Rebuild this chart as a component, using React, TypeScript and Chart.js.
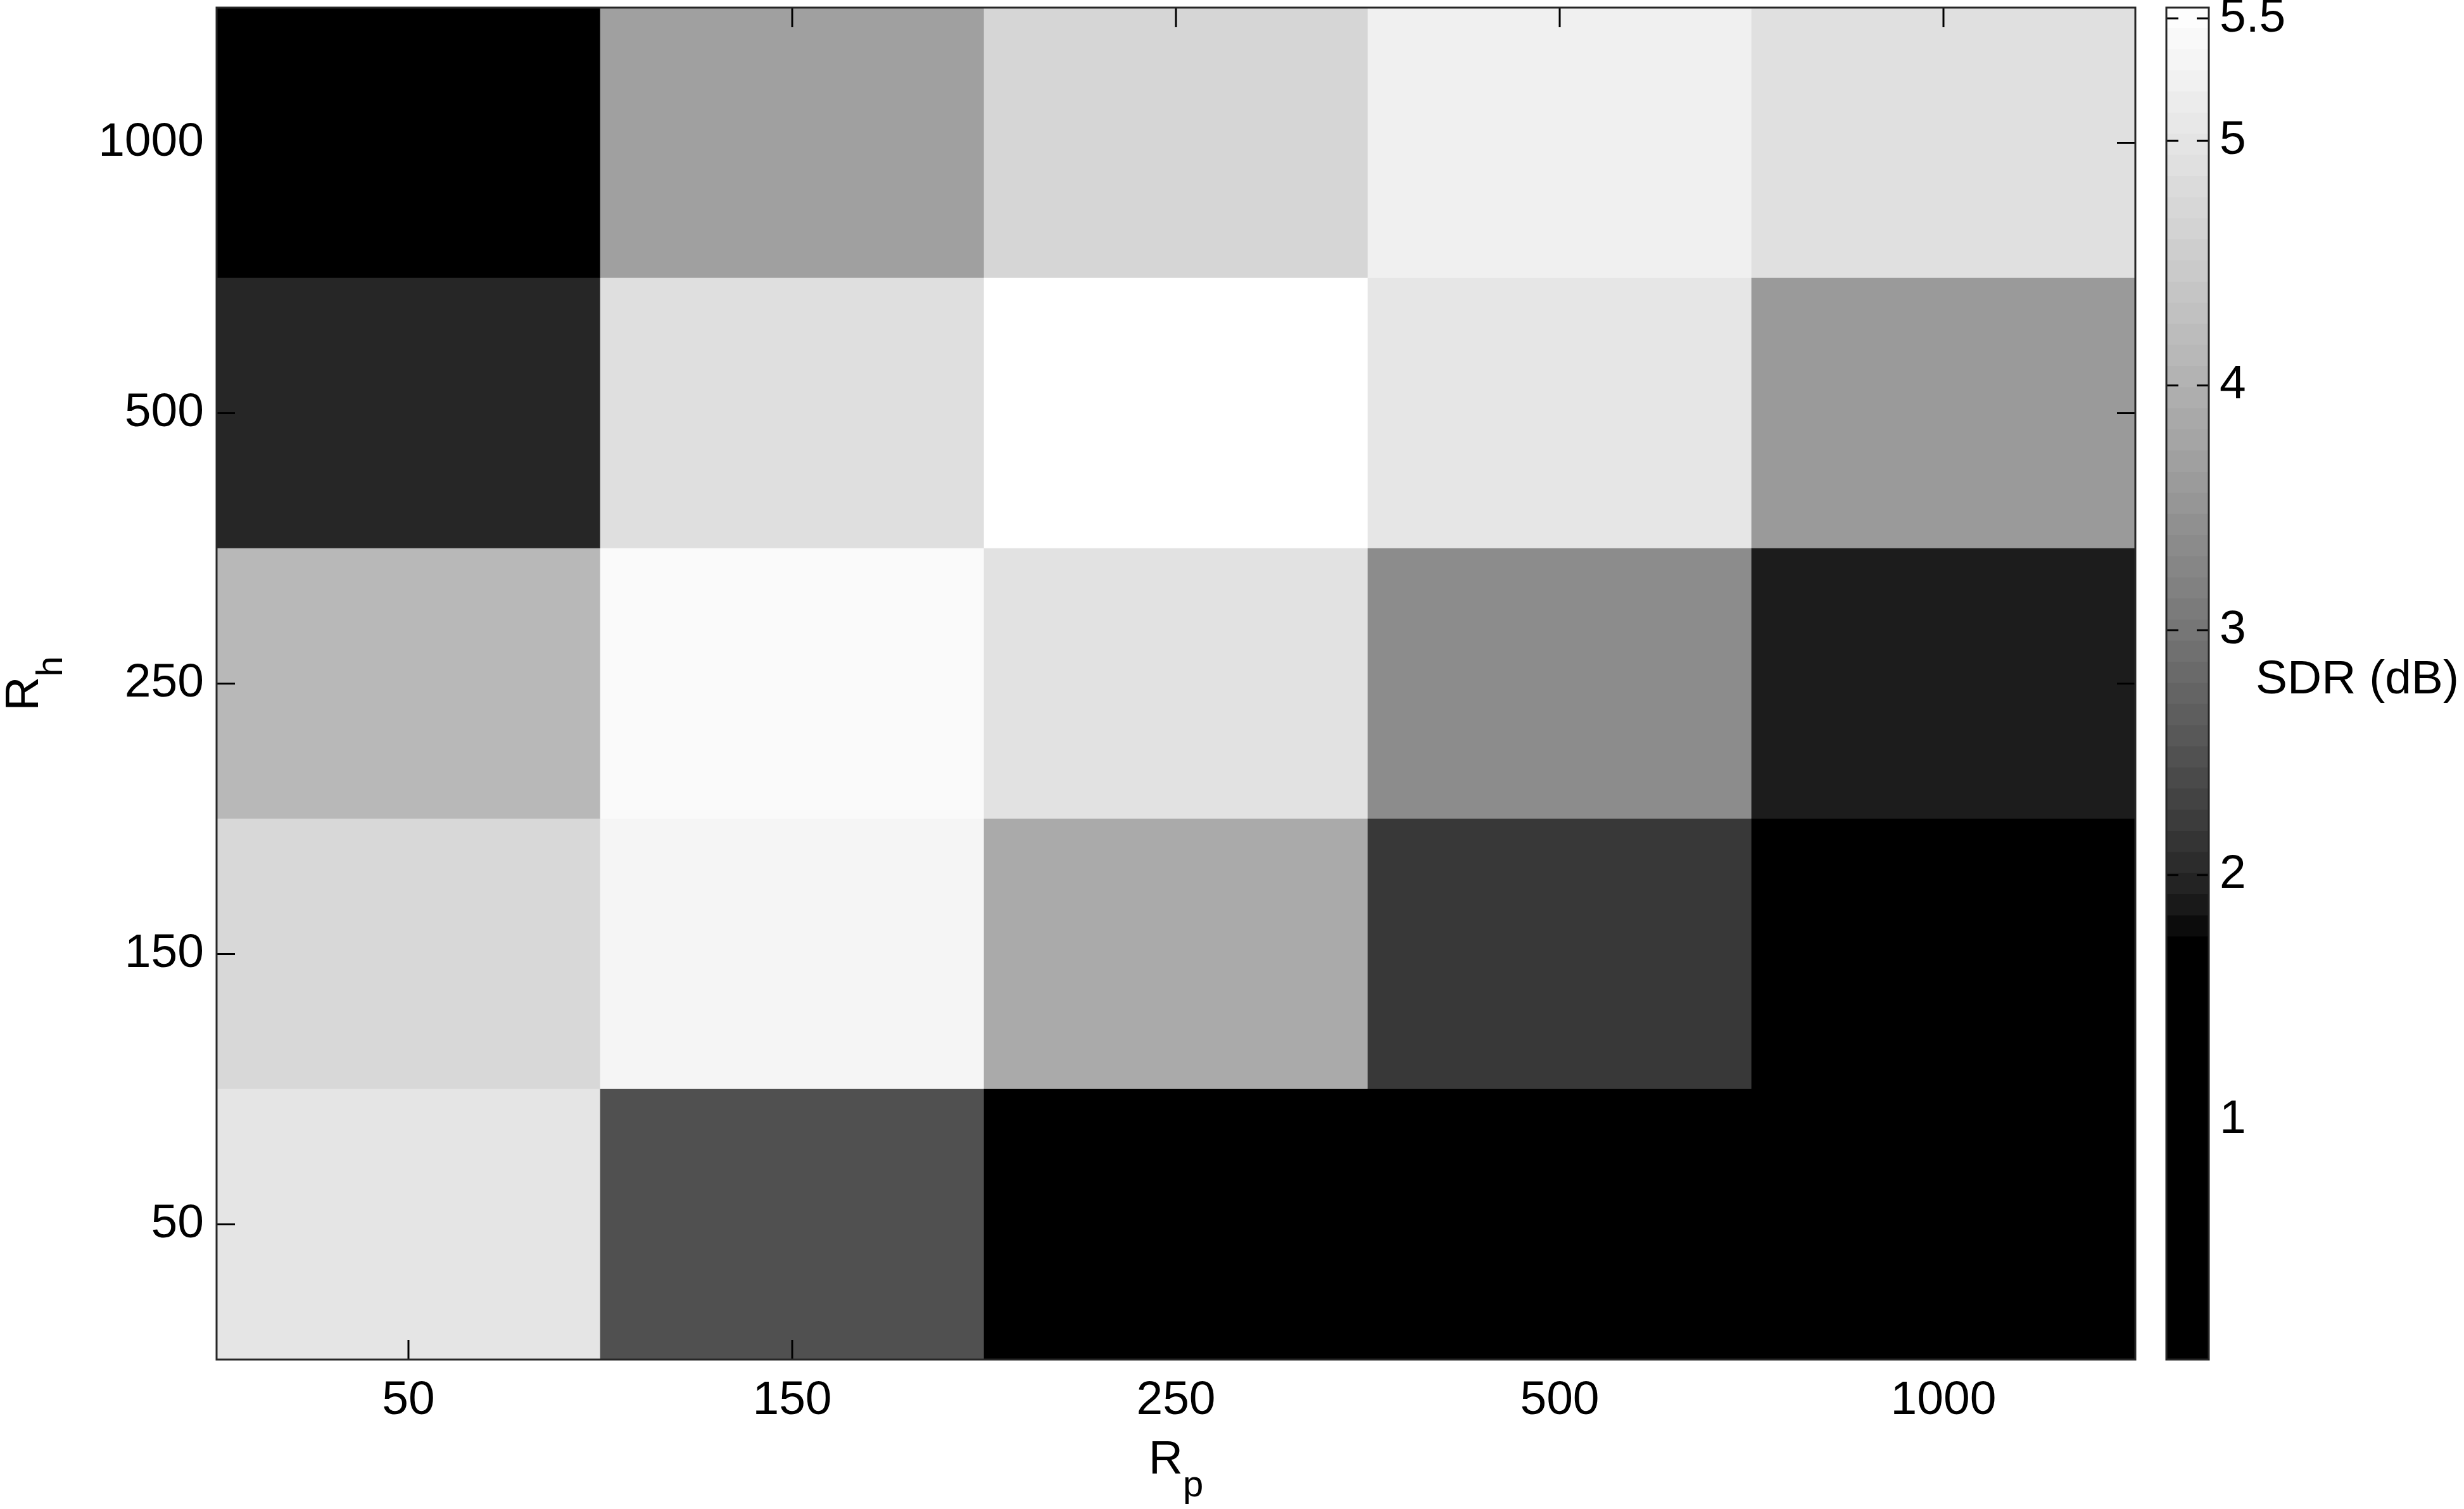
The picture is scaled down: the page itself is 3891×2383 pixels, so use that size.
import React, { useEffect, useRef } from "react";
import { Chart, registerables } from "chart.js";

Chart.register(...registerables);

// ---- data ----
const rpLabels = ["50", "150", "250", "500", "1000"];
const rhLabels = ["50", "150", "250", "500", "1000"]; // bottom -> top
// SDR (dB) per R_h row, indexed by R_p column
const sdrRh50 = [5.0, 2.47, 1.2, 0.9, 0.6];
const sdrRh150 = [4.74, 5.33, 3.87, 2.18, 1.3];
const sdrRh250 = [4.13, 5.43, 4.94, 3.35, 1.9];
const sdrRh500 = [1.99, 4.88, 5.54, 5.02, 3.59];
const sdrRh1000 = [1.5, 3.69, 4.7, 5.22, 4.9];
const sdrRows = [sdrRh50, sdrRh150, sdrRh250, sdrRh500, sdrRh1000];

const cbTicks = [1, 2, 3, 4, 5, 5.5];
const cbMin = 0.02;
const cbMax = 5.544;
const cbLevels = 64;
const cmBlack = 1.74;
const cmGamma = 0.7;

const FONT = '"Liberation Sans", Arial, Helvetica, sans-serif';
const FS = 75;
const SUB = 58;

function cm(v: number): string {
  let t = (v - cmBlack) / (cbMax - cmBlack);
  t = Math.max(0, Math.min(1, t));
  const g = Math.round(255 * Math.pow(t, cmGamma));
  return `rgb(${g},${g},${g})`;
}

const W = 3891;
const H = 2383;
const PLOT_LEFT = 342;
const PLOT_RIGHT = 3372;
const PLOT_TOP = 12;
const PLOT_BOTTOM = 2147;
const CB_LEFT = 3421;
const CB_RIGHT = 3488;
const CB_CANVAS_X = 3300;

const framePlugin = {
  id: "frameTicks",
  afterDraw(chart: any) {
    const { ctx, chartArea: a, scales } = chart;
    const x = scales.x;
    const y = scales.y;
    ctx.save();
    ctx.strokeStyle = "#000";
    ctx.lineWidth = 3;
    ctx.beginPath();
    rpLabels.forEach((_, i) => {
      const px = x.getPixelForValue(i);
      ctx.moveTo(px, a.bottom);
      ctx.lineTo(px, a.bottom - 31);
      ctx.moveTo(px, a.top);
      ctx.lineTo(px, a.top + 31);
    });
    rhLabels.forEach((_, r) => {
      const py = y.getPixelForValue(r + 0.5);
      ctx.moveTo(a.left, py);
      ctx.lineTo(a.left + 29, py);
      ctx.moveTo(a.right, py);
      ctx.lineTo(a.right - 29, py);
    });
    ctx.stroke();
    ctx.strokeStyle = "#262626";
    ctx.strokeRect(a.left, a.top, a.right - a.left, a.bottom - a.top);

    // axis titles with subscripts
    ctx.fillStyle = "#000";
    ctx.textBaseline = "alphabetic";
    ctx.textAlign = "left";
    const cx = (a.left + a.right) / 2;
    const cy = (a.top + a.bottom) / 2;
    ctx.font = `${FS}px ${FONT}`;
    const wR = ctx.measureText("R").width;
    ctx.font = `${SUB}px ${FONT}`;
    const wP = ctx.measureText("p").width;
    const wH = ctx.measureText("h").width;
    let sx = cx - (wR + wP) / 2;
    const by = a.bottom + 180;
    ctx.font = `${FS}px ${FONT}`;
    ctx.fillText("R", sx, by);
    ctx.font = `${SUB}px ${FONT}`;
    ctx.fillText("p", sx + wR, by + 36);
    ctx.translate(a.left - 282, cy);
    ctx.rotate(-Math.PI / 2);
    sx = -(wR + wH) / 2;
    ctx.font = `${FS}px ${FONT}`;
    ctx.fillText("R", sx, 0);
    ctx.font = `${SUB}px ${FONT}`;
    ctx.fillText("h", sx + wR, 38);
    ctx.restore();
  },
};

const cbPlugin = {
  id: "cbFrame",
  afterDraw(chart: any) {
    const { ctx, chartArea: a, scales } = chart;
    const y = scales.y;
    ctx.save();
    ctx.strokeStyle = "#000";
    ctx.lineWidth = 3;
    ctx.beginPath();
    cbTicks.forEach((t) => {
      const py = y.getPixelForValue(t);
      ctx.moveTo(a.left, py);
      ctx.lineTo(a.left + 19, py);
      ctx.moveTo(a.right, py);
      ctx.lineTo(a.right - 19, py);
    });
    ctx.stroke();
    ctx.strokeStyle = "#262626";
    ctx.strokeRect(a.left, a.top, a.right - a.left, a.bottom - a.top);
    ctx.fillStyle = "#000";
    ctx.font = `${FS}px ${FONT}`;
    ctx.textAlign = "left";
    ctx.textBaseline = "alphabetic";
    ctx.fillText("SDR (dB)", a.right + 74, (a.top + a.bottom) / 2 + 15);
    ctx.restore();
  },
};

function zeroPad(s: any) {
  s.paddingTop = 0;
  s.paddingBottom = 0;
  s.paddingLeft = 0;
  s.paddingRight = 0;
}

export default function App() {
  const mainRef = useRef<HTMLCanvasElement | null>(null);
  const cbRef = useRef<HTMLCanvasElement | null>(null);

  useEffect(() => {
    const datasets = sdrRows.map((row, r) => ({
      label: `Rh ${rhLabels[r]}`,
      data: row.map(() => [r, r + 1]),
      backgroundColor: row.map((v) => cm(v)),
      borderWidth: 0,
      barPercentage: 1,
      categoryPercentage: 1,
      grouped: false,
    }));

    const main = new Chart(mainRef.current as HTMLCanvasElement, {
      type: "bar",
      data: { labels: rpLabels, datasets: datasets as any },
      options: {
        responsive: false,
        animation: false,
        layout: {
          padding: { left: 0, top: PLOT_TOP, right: W - PLOT_RIGHT, bottom: 0 },
        },
        plugins: { legend: { display: false }, tooltip: { enabled: false } },
        scales: {
          x: {
            type: "category",
            offset: true,
            grid: { display: false },
            border: { display: false },
            ticks: {
              color: "#000",
              font: { family: FONT, size: FS },
              padding: 12,
              maxRotation: 0,
              autoSkip: false,
            },
            afterFit: (s: any) => {
              s.height = H - PLOT_BOTTOM;
              zeroPad(s);
            },
          },
          y: {
            type: "linear",
            min: 0,
            max: 5,
            grid: { display: false },
            border: { display: false },
            afterBuildTicks: (s: any) => {
              s.ticks = rhLabels.map((_, i) => ({ value: i + 0.5 }));
            },
            ticks: {
              color: "#000",
              font: { family: FONT, size: FS },
              padding: 12,
              autoSkip: false,
              callback: (v: any) => rhLabels[Math.round(Number(v) - 0.5)],
            },
            afterFit: (s: any) => {
              s.width = PLOT_LEFT;
              zeroPad(s);
            },
          },
        },
      },
      plugins: [framePlugin],
    });

    const step = (cbMax - cbMin) / cbLevels;
    const bands = Array.from({ length: cbLevels }, (_, k) => [cbMin + k * step, cbMin + (k + 1) * step]);
    const cbDatasets = bands.map((b, k) => ({
      label: `band ${k}`,
      data: [[b[0], b[1] + (k < cbLevels - 1 ? step * 0.02 : 0)]],
      backgroundColor: cm((b[0] + b[1]) / 2),
      borderWidth: 0,
      barPercentage: 1,
      categoryPercentage: 1,
      grouped: false,
    }));

    const cbW = W - CB_CANVAS_X;
    const cb = new Chart(cbRef.current as HTMLCanvasElement, {
      type: "bar",
      data: { labels: ["SDR"], datasets: cbDatasets as any },
      options: {
        responsive: false,
        animation: false,
        layout: {
          padding: { left: CB_LEFT - CB_CANVAS_X, top: PLOT_TOP, right: 0, bottom: H - PLOT_BOTTOM },
        },
        plugins: { legend: { display: false }, tooltip: { enabled: false } },
        scales: {
          x: { type: "category", display: false, offset: true },
          y: {
            type: "linear",
            position: "right",
            min: cbMin,
            max: cbMax,
            grid: { display: false },
            border: { display: false },
            afterBuildTicks: (s: any) => {
              s.ticks = cbTicks.map((v) => ({ value: v }));
            },
            ticks: {
              color: "#000",
              font: { family: FONT, size: FS },
              padding: 9,
              autoSkip: false,
              callback: (v: any) => String(v),
            },
            afterFit: (s: any) => {
              s.width = cbW - (CB_RIGHT - CB_CANVAS_X);
              zeroPad(s);
            },
          },
        },
      },
      plugins: [cbPlugin],
    });

    return () => {
      main.destroy();
      cb.destroy();
    };
  }, []);

  return (
    <div style={{ position: "absolute", left: 0, top: 0, width: W, height: H, background: "#fff" }}>
      <canvas ref={mainRef} width={W} height={H} style={{ position: "absolute", left: 0, top: 0 }} />
      <canvas
        ref={cbRef}
        width={W - CB_CANVAS_X}
        height={H}
        style={{ position: "absolute", left: CB_CANVAS_X, top: 0 }}
      />
    </div>
  );
}
